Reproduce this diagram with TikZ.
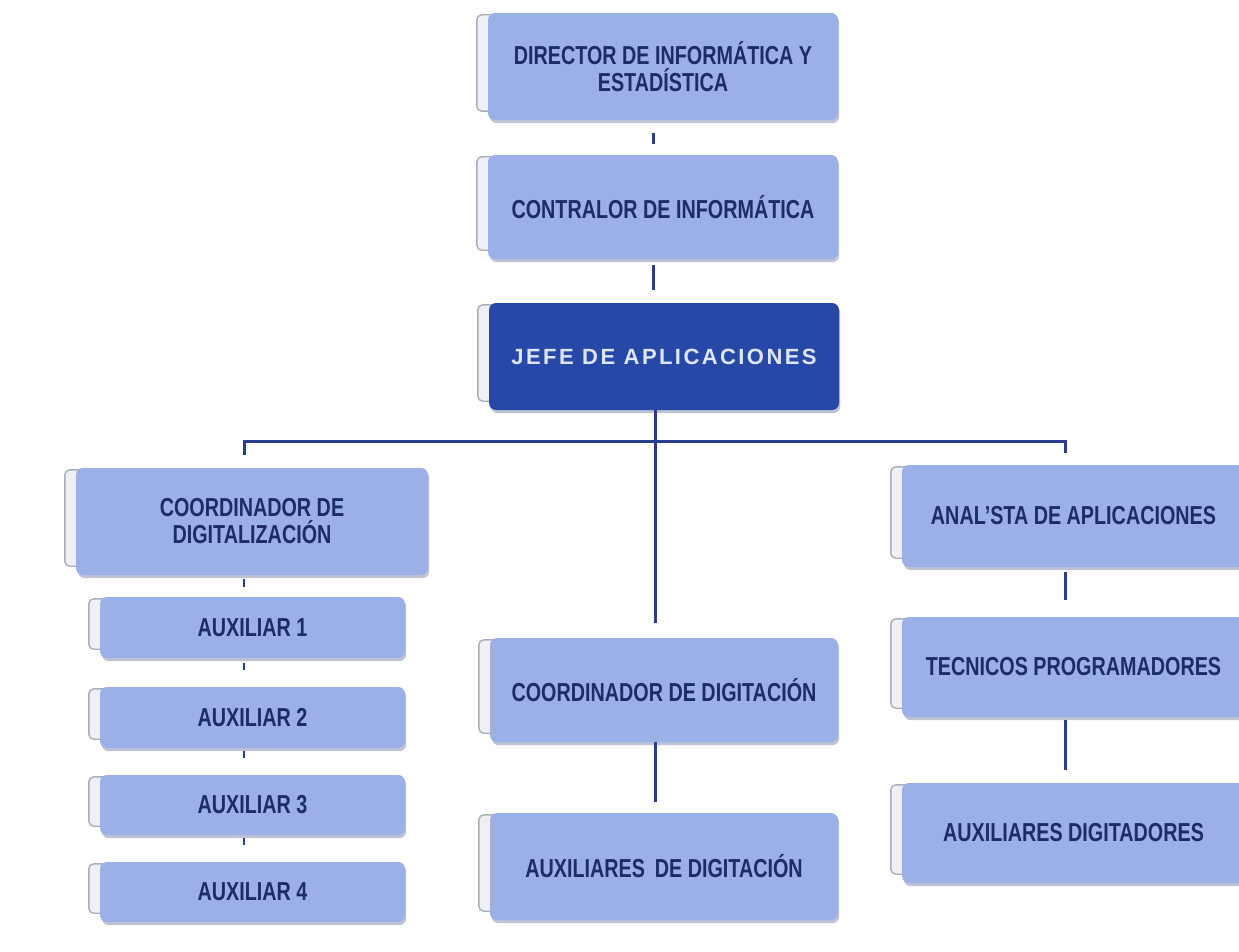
\documentclass[tikz,border=0pt]{standalone}
\usepackage{fontspec}
\setmainfont{Liberation Sans}[FakeStretch=0.76]
\newfontfamily\bossfont{Liberation Sans}[LetterSpace=11]
\usetikzlibrary{backgrounds}

\definecolor{boxfill}{RGB}{156,176,232}
\definecolor{bossfill}{RGB}{40,72,168}
\definecolor{labelink}{RGB}{30,44,100}
\definecolor{bossink}{RGB}{222,230,250}
\definecolor{linkcol}{RGB}{42,60,140}
\definecolor{tabedge}{RGB}{170,174,186}
\definecolor{tabfill}{RGB}{238,240,246}
\definecolor{boxshade}{RGB}{110,122,160}

\tikzset{
  unitbox/.style={rounded corners=7pt, inner sep=0pt, align=center,
    font=\fontsize{26}{27}\selectfont\bfseries, text=labelink, fill=boxfill},
  bossbox/.style={unitbox, fill=bossfill, text=bossink,
    font=\bossfont\fontsize{22}{26}\selectfont\bfseries},
  sidetab/.style={fill=tabfill, draw=tabedge, line width=1.4pt, rounded corners=5pt},
  boxshadow/.style={fill=boxshade, opacity=0.45, rounded corners=7pt},
  link/.style={draw=linkcol, line width=3pt},
  tick/.style={draw=linkcol, line width=2.6pt}
}

\begin{document}
\begin{tikzpicture}[x=1pt,y=-1pt]
  \clip (0,0) rectangle (1239,952);

  % vertical lines of the connectors
  \coordinate (topx) at (653,0);
  \coordinate (midx) at (655,0);
  \coordinate (leftx) at (244,0);
  \coordinate (rightx) at (1065,0);
  \coordinate (busy) at (0,441);

  % top column
  \node[unitbox, minimum width=350pt, minimum height=107pt] (dir) at (663,66.5)
    {DIRECTOR DE INFORMÁTICA Y\\ESTADÍSTICA};
  \node[unitbox, minimum width=350pt, minimum height=104pt] (contr) at (663,207)
    {CONTRALOR DE INFORMÁTICA};
  \node[bossbox, minimum width=350pt, minimum height=107pt] (jefe) at (664,356.5)
    {JEFE DE APLICACIONES};

  % left column
  \node[unitbox, minimum width=352pt, minimum height=107pt] (cdz) at (252,521.5)
    {COORDINADOR DE\\DIGITALIZACIÓN};
  \node[unitbox, minimum width=305pt, minimum height=61pt] (aux1) at (252.5,627.5) {AUXILIAR 1};
  \node[unitbox, minimum width=305pt, minimum height=61pt] (aux2) at (252.5,717.5) {AUXILIAR 2};
  \node[unitbox, minimum width=305pt, minimum height=60pt] (aux3) at (252.5,805) {AUXILIAR 3};
  \node[unitbox, minimum width=305pt, minimum height=60pt] (aux4) at (252.5,892) {AUXILIAR 4};

  % middle column
  \node[unitbox, minimum width=348pt, minimum height=104pt] (cdg) at (664,690)
    {COORDINADOR DE DIGITACIÓN};
  \node[unitbox, minimum width=348pt, minimum height=107pt] (adg) at (664,866.5)
    {AUXILIARES\,\ DE DIGITACIÓN};

  % right column
  \node[unitbox, minimum width=343pt, minimum height=102pt] (ana) at (1073.5,516)
    {ANAL'STA DE APLICACIONES};
  \node[unitbox, minimum width=343pt, minimum height=100pt] (tec) at (1073.5,667)
    {TECNICOS PROGRAMADORES};
  \node[unitbox, minimum width=343pt, minimum height=100pt] (adr) at (1073.5,833)
    {AUXILIARES DIGITADORES};

  % page, side tabs and soft shadows behind every box
  \begin{scope}[on background layer]
    \fill[white] (0,0) rectangle (1239,952);
    \foreach \n in {dir,contr,jefe,cdz,aux1,aux2,aux3,aux4,cdg,adg,ana,tec,adr}{
      \path[sidetab] ([xshift=-11pt,yshift=-2pt]\n.north west)
        rectangle ([xshift=12pt,yshift=9pt]\n.south west);
      \path[boxshadow] ([xshift=2pt,yshift=-3pt]\n.north west)
        rectangle ([xshift=1pt,yshift=-3pt]\n.south east);
    }
  \end{scope}

  % connectors
  \draw[link, shorten <=13pt, shorten >=11pt] (dir.south -| topx) -- (contr.north -| topx);
  \draw[link, shorten <=6pt, shorten >=13pt] (contr.south -| topx) -- (jefe.north -| topx);
  \draw[link, shorten >=15pt] (jefe.south -| midx) -- (cdg.north -| midx);
  \draw[link, shorten <=13pt, shorten >=12pt] (cdz.north -| leftx) -- (busy -| leftx)
    -- (busy -| rightx) -- (ana.north -| rightx);

  \draw[tick, shorten <=4pt, shorten >=10pt] (cdz.south -| leftx) -- (aux1.north -| leftx);
  \draw[tick, shorten <=5pt, shorten >=17pt] (aux1.south -| leftx) -- (aux2.north -| leftx);
  \draw[tick, shorten <=3pt, shorten >=17pt] (aux2.south -| leftx) -- (aux3.north -| leftx);
  \draw[tick, shorten <=3pt, shorten >=17pt] (aux3.south -| leftx) -- (aux4.north -| leftx);

  \draw[link, shorten >=11pt] (cdg.south -| midx) -- (adg.north -| midx);
  \draw[link, shorten <=5pt, shorten >=17pt] (ana.south -| rightx) -- (tec.north -| rightx);
  \draw[link, shorten <=3pt, shorten >=13pt] (tec.south -| rightx) -- (adr.north -| rightx);
\end{tikzpicture}
\end{document}
